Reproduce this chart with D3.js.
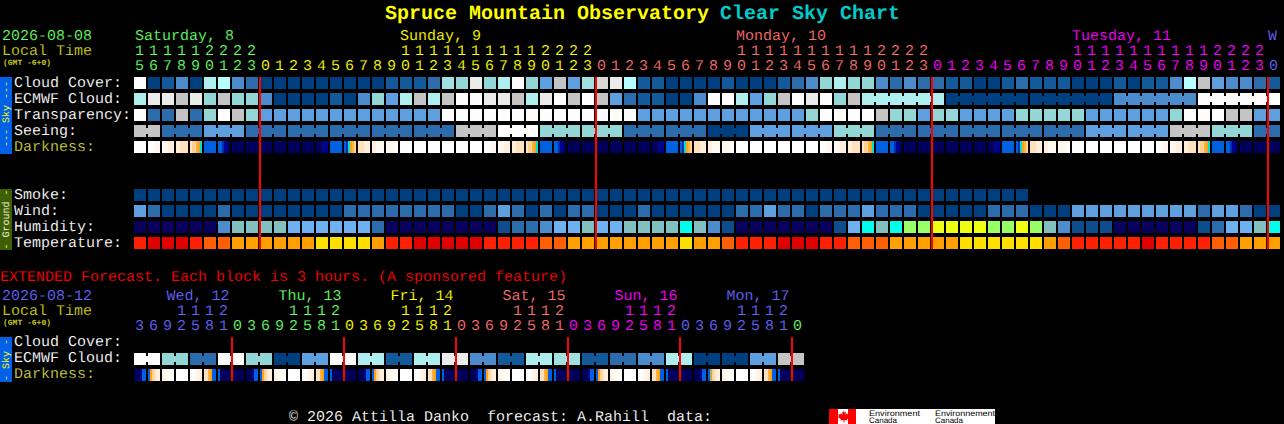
<!DOCTYPE html>
<html><head><meta charset="utf-8">
<script src="https://cdn.jsdelivr.net/npm/d3@7"></script>
<style>html,body{margin:0;padding:0;background:#000;overflow:hidden}svg{display:block}text{white-space:pre;font-family:"Liberation Mono",monospace;font-size:15px;text-rendering:geometricPrecision}.thin{stroke:#000;stroke-width:.12px}</style>
</head><body><svg id="c" width="1284" height="424"></svg>
<script>
// ---------- data ----------
const hours = [15,16,17,18,19,20,21,22,23,0,1,2,3,4,5,6,7,8,9,10,11,12,13,14,15,16,17,18,19,20,21,22,23,0,1,2,3,4,5,6,7,8,9,10,11,12,13,14,15,16,17,18,19,20,21,22,23,0,1,2,3,4,5,6,7,8,9,10,11,12,13,14,15,16,17,18,19,20,21,22,23,0];
const hourDay = [0,0,0,0,0,0,0,0,0,1,1,1,1,1,1,1,1,1,1,1,1,1,1,1,1,1,1,1,1,1,1,1,1,2,2,2,2,2,2,2,2,2,2,2,2,2,2,2,2,2,2,2,2,2,2,2,2,3,3,3,3,3,3,3,3,3,3,3,3,3,3,3,3,3,3,3,3,3,3,3,3,4];
const dayNames = ["Saturday, 8","Sunday, 9","Monday, 10","Tuesday, 11","W"];
const dayLabelCols = [0,19,43,67,81];
const dayBreaks = [9,33,57,81];
const cloudCover = [12,0,1,3,0,7,8,3,2,0,0,0,0,0,0,0,0,0,1,1,1,2,6,5,11,5,7,12,5,4,9,4,6,10,11,8,1,1,0,0,0,0,1,0,0,0,1,2,3,5,7,5,5,3,2,3,2,2,1,1,0,0,1,2,1,1,1,0,0,0,1,0,1,1,3,8,9,4,3,3,2,1];
const ecmwfCloud = [7,11,11,9,11,5,9,5,5,3,0,0,0,0,1,0,3,5,4,7,9,7,9,12,12,11,11,9,7,11,12,9,12,9,4,2,1,1,0,0,3,12,12,7,4,5,9,12,11,12,5,9,7,7,7,7,7,7,0,0,0,0,0,0,0,0,0,0,0,0,3,3,3,3,3,3,12,12,12,12,12,12];
const ecmwfSpans = [1,1,1,1,1,1,1,1,1,1,1,1,1,1,1,1,1,1,1,1,1,1,1,1,1,1,1,1,1,1,1,1,1,1,1,1,1,1,1,1,1,1,1,1,1,1,1,1,1,1,1,1,6,6,6,6,6];
const transparency = [12,2,2,9,2,5,12,9,5,4,4,4,4,4,4,4,4,4,4,4,4,4,12,12,12,12,12,12,12,12,12,12,12,12,12,12,4,4,4,4,4,4,4,4,4,4,4,4,5,12,12,12,12,9,5,5,4,5,5,4,4,4,4,5,5,5,5,5,4,4,4,4,4,4,5,12,12,12,9,9,4,4];
const seeing = [9,9,2,2,2,4,4,4,2,2,2,2,2,2,2,2,2,2,2,2,2,2,2,9,9,9,12,12,12,5,5,5,5,5,5,2,2,2,2,2,2,0,0,0,4,4,4,4,4,4,5,5,5,2,2,2,2,2,2,2,2,2,2,2,2,2,2,2,4,4,4,4,4,4,9,9,9,5,5,5,2,2];
const seeingSpans = [2,3,3,3,3,3,3,3,3,3,3,3,3,3,3,3,3,3,3,3,3,3,3,3,3,3,3,2];
const darkness = ["aaaaaa","aaabbb","bbbccc","ccdddd","deefgh","iiiiii","iijkkl","llllll","llllll","llllll","llllll","llllll","llllll","lllkkk","iiiiii","ijhgfe","dddccc","ccbbbb","bbbbaa","aaaaaa","aaaaaa","aaaaaa","aaaaaa","aaaaaa","aaaaaa","aaabbb","bbbccc","ccdddd","deefgh","iiiiii","iijkkl","llllll","llllll","llllll","llllll","llllll","llllll","lllkkk","iiiiii","ijhgfe","dddccc","ccbbbb","bbbbaa","aaaaaa","aaaaaa","aaaaaa","aaaaaa","aaaaaa","aaaaaa","aaabbb","bbbccc","ccdddd","deefgh","iiiiii","iijkkl","llllll","llllll","llllll","llllll","llllll","llllll","lllkkk","iiiiii","ijhgfe","dddccc","ccbbbb","bbbbaa","aaaaaa","aaaaaa","aaaaaa","aaaaaa","aaaaaa","aaaaaa","aaabbb","bbbccc","ccdddd","deefgh","iiiiii","iijkkl","llllll","llllll","llllll"];
const smoke = [0,0,0,0,0,0,0,0,0,0,0,0,0,0,0,0,0,0,0,0,0,0,0,0,0,0,0,0,0,0,0,0,0,0,0,0,0,0,0,0,0,0,0,0,0,0,0,0,0,0,0,0,0,0,0,0,0,0,0,0,0,0,0,0];
const wind = [4,2,0,0,0,0,2,0,0,0,0,0,0,0,0,2,2,2,2,2,2,2,2,0,0,2,4,2,0,2,0,2,2,0,0,0,2,0,0,0,0,0,0,2,2,4,2,2,0,2,2,2,4,2,2,2,0,0,0,0,0,2,2,2,0,0,0,4,4,4,4,4,4,4,4,4,2,4,4,2,0,0];
const humidity = [0,0,0,0,0,0,3,5,5,5,5,4,4,4,4,4,4,2,0,0,0,0,0,0,0,0,1,2,2,3,4,4,5,4,4,5,5,5,5,6,5,3,1,0,0,0,0,0,0,0,1,4,6,5,6,7,7,8,8,8,8,7,7,8,7,5,3,1,1,1,0,0,0,0,0,0,1,2,4,4,5,6];
const temperature = [1,0,0,0,1,2,2,3,3,3,3,3,3,4,4,4,4,3,1,1,0,0,0,0,0,1,1,1,1,2,2,3,3,3,3,3,3,3,3,4,3,3,2,1,1,1,0,0,0,1,1,2,2,2,3,3,3,3,3,4,4,4,4,4,4,3,2,1,1,1,1,1,0,1,1,1,1,2,2,3,3,3];
const extDayNames = ["Wed, 12","Thu, 13","Fri, 14","Sat, 15","Sun, 16","Mon, 17"];
const extHours = [3,6,9,12,15,18,21,0,3,6,9,12,15,18,21,0,3,6,9,12,15,18,21,0,3,6,9,12,15,18,21,0,3,6,9,12,15,18,21,0,3,6,9,12,15,18,21,0];
const extHourDay = [0,0,0,0,0,0,0,1,1,1,1,1,1,1,1,2,2,2,2,2,2,2,2,3,3,3,3,3,3,3,3,4,4,4,4,4,4,4,4,5,5,5,5,5,5,5,5,6];
const extBreaks = [7,15,23,31,39,47];
const extEcmwf = [12,12,5,5,2,2,12,12,5,5,0,0,4,4,12,12,7,7,1,1,7,7,11,11,3,3,1,1,7,7,6,6,1,1,2,2,3,3,7,7,0,0,0,0,4,4,9,9];
const extSpans = [2,2,2,2,2,2,2,2,2,2,2,2,2,2,2,2,2,2,2,2,2,2,2,2];
const extDarkness = ["lllkii","igedcc","cbbbaa","aaaaaa","aabbcc","ddfgii","illlll","llllll","lllkii","igedcc","cbbbaa","aaaaaa","aabbcc","ddfgii","illlll","llllll","lllkii","igedcc","cbbbaa","aaaaaa","aabbcc","ddfgii","illlll","llllll","lllkii","igedcc","cbbbaa","aaaaaa","aabbcc","ddfgii","illlll","llllll","lllkii","igedcc","cbbbaa","aaaaaa","aabbcc","ddfgii","illlll","llllll","lllkii","inedcc","cbbbaa","aaaaaa","aabbcc","ddfgii","illlll","llllll"];

// ---------- styles ----------
const skyColors = ["#003f7f","#135a9a","#2c6cac","#4c8ccc","#5e9fe0","#93d6d6","#a0e0e0","#aeeeee","#b8ffff","#c4c4c4","#d8d8d8","#ebebeb","#fdfdfd"];
const humidityColors = ["#08005c","#0f4c8c","#2c6cac","#4c8ccc","#6eb0f0","#82c0c0","#00ffe8","#99ff66","#eeff11"];
const temperatureColors = ["#e00000","#ff2000","#ff5f00","#ff9f00","#ffdf00"];
const darknessKeys = "abcdefghijkln".split("");
const darknessColors = ["#ffffff","#fff8f0","#ffefdc","#ffe2bd","#ffd090","#ffb040","#ffa020","#00e0d0","#0060e0","#0030b0","#000090","#00005a","#b0b060"];
const dayColors = ["#66ff66","#ffff00","#ff7070","#ff00ff","#6666ff"];
const extDayColors = ["#6666ff","#66ff66","#ffff00","#ff7070","#ff00ff","#6666ff","#66ff66"];

const svg = d3.select("#c");
const sky = d3.scaleOrdinal(d3.range(skyColors.length), skyColors);
const hum = d3.scaleOrdinal(d3.range(humidityColors.length), humidityColors);
const tmp = d3.scaleOrdinal(d3.range(temperatureColors.length), temperatureColors);
const drk = d3.scaleOrdinal(darknessKeys, darknessColors);
const X = d3.scaleBand().domain(d3.range(82)).range([134,1280]).paddingInner(2/14);
const XE = d3.scaleBand().domain(d3.range(48)).range([134,804]).paddingInner(2/14);
const skyRows = ["Cloud Cover:","ECMWF Cloud:","Transparency:","Seeing:","Darkness:"];
const groundRows = ["Smoke:","Wind:","Humidity:","Temperature:"];
const extRows = ["Cloud Cover:","ECMWF Cloud:","Darkness:"];
const Y1 = d3.scaleBand().domain(skyRows).range([77,153]).paddingInner(.25);
const Y2 = d3.scaleBand().domain(groundRows).range([189,249]).paddingInner(.25);
const Y3 = d3.scaleBand().domain(extRows).range([337,381]).paddingInner(.25);

function txt(g,x,y,s,fill){return g.append("text").attr("class","thin").attr("x",x).attr("y",y).attr("fill",fill).text(s);}

// title
const title = svg.append("g");
title.append("text").attr("x",385).attr("y",18.5).attr("fill","#ffff00").style("font-size","20px").style("font-weight","bold").text("Spruce Mountain Observatory");
title.append("text").attr("x",720).attr("y",18.5).attr("fill","#00cccc").style("font-size","20px").style("font-weight","bold").text("Clear Sky Chart");

const marks = svg.append("g").attr("shape-rendering","crispEdges");

function cells(x,y,rowName,values,color){
  marks.append("g").selectAll("rect").data(values).join("rect")
    .attr("x",(d,i)=>x(i)).attr("y",y(rowName)).attr("width",x.bandwidth()).attr("height",y.bandwidth())
    .attr("fill",d=>color(d));
}
function bridges(x,y,rowName,values,spans,color){
  let pairs=[],c=0;
  spans.forEach(s=>{for(let k=0;k<s-1;k++)pairs.push(c+k);c+=s;});
  const gap=x.step()-x.bandwidth();
  marks.append("g").selectAll("rect").data(pairs).join("rect")
    .attr("x",i=>x(i)+x.bandwidth()).attr("y",y(rowName)+y.bandwidth()/4)
    .attr("width",gap).attr("height",y.bandwidth()/2).attr("fill",i=>color(values[i]));
}
function stripes(x,y,rowName,values,color){
  const g=marks.append("g");
  values.forEach((s,i)=>{
    const sub=d3.scaleBand().domain(d3.range(s.length)).range([x(i),x(i)+x.bandwidth()]);
    g.append("g").selectAll("rect").data(s.split("")).join("rect")
      .attr("x",(d,k)=>sub(k)).attr("y",y(rowName)).attr("width",sub.bandwidth()).attr("height",y.bandwidth())
      .attr("fill",d=>color(d));
  });
}
cells(X,Y1,"Cloud Cover:",cloudCover,sky);
cells(X,Y1,"ECMWF Cloud:",ecmwfCloud,sky); bridges(X,Y1,"ECMWF Cloud:",ecmwfCloud,ecmwfSpans,sky);
cells(X,Y1,"Transparency:",transparency,sky);
cells(X,Y1,"Seeing:",seeing,sky); bridges(X,Y1,"Seeing:",seeing,seeingSpans,sky);
stripes(X,Y1,"Darkness:",darkness,drk);
cells(X,Y2,"Smoke:",smoke,sky);
cells(X,Y2,"Wind:",wind,sky);
cells(X,Y2,"Humidity:",humidity,hum);
cells(X,Y2,"Temperature:",temperature,tmp);
cells(XE,Y3,"ECMWF Cloud:",extEcmwf,sky); bridges(XE,Y3,"ECMWF Cloud:",extEcmwf,extSpans,sky);
stripes(XE,Y3,"Darkness:",extDarkness,drk);

// day break lines
marks.append("g").selectAll("rect").data(dayBreaks).join("rect")
  .attr("x",c=>X(c)-1).attr("y",77).attr("width",2).attr("height",172).attr("fill","#ff0000");
marks.append("g").selectAll("rect").data(extBreaks).join("rect")
  .attr("x",c=>XE(c)-1).attr("y",337).attr("width",2).attr("height",44).attr("fill","#ff0000");

// side bars
marks.append("rect").attr("x",0).attr("y",77).attr("width",12).attr("height",77).attr("fill","#0060e8");
marks.append("rect").attr("x",0).attr("y",189).attr("width",12).attr("height",61).attr("fill","#3f6000");
marks.append("rect").attr("x",0).attr("y",337).attr("width",12).attr("height",45).attr("fill","#0060e8");
function side(cy,s,fill){svg.append("text").attr("transform",`translate(9,${cy}) rotate(-90)`).attr("text-anchor","middle").attr("fill",fill).style("font-size","10px").text(s);}
side(114,"--- Sky ---","#ffff00");
side(219.5,"- Ground -","#f0f0e0");
side(360,"- Sky -","#ffff00");

// row labels
const labels = svg.append("g");
skyRows.forEach(r=>txt(labels,14,Y1(r)+9.5,r,r==="Darkness:"?"#c8c840":"#ffffff"));
groundRows.forEach(r=>txt(labels,14,Y2(r)+9.5,r,"#ffffff"));
extRows.forEach(r=>txt(labels,14,Y3(r)+8.5,r,r==="Darkness:"?"#c8c840":"#ffffff"));

// header, main
txt(labels,2,39.5,"2026-08-08","#66ff66");
txt(labels,2,55,"Local Time","#c8c820");
labels.append("text").attr("x",3).attr("y",65).attr("fill","#c8c820").style("font-size","8px").style("font-weight","bold").text("(GMT -6+0)");
dayNames.forEach((d,i)=>txt(labels,X(dayLabelCols[i])+(i===0?1:0),39.5,d,dayColors[i]));
const tickG = svg.append("g");
hours.forEach((h,i)=>{
  const c=dayColors[hourDay[i]];
  txt(tickG,X(i)+1,70,String(h%10),c);
  if(h>=10) txt(tickG,X(i)+1,55,String(Math.floor(h/10)),c);
});

// extended
txt(labels,0,281,"EXTENDED Forecast. Each block is 3 hours. (A sponsored feature)","#ff0000");
txt(labels,2,300,"2026-08-12","#6666ff");
txt(labels,2,315,"Local Time","#c8c820");
labels.append("text").attr("x",3).attr("y",325).attr("fill","#c8c820").style("font-size","8px").style("font-weight","bold").text("(GMT -6+0)");
extDayNames.forEach((d,i)=>txt(labels,XE(0)+32.5+i*XE.step()*8,300,d,extDayColors[i]));
extHours.forEach((h,i)=>{
  const c=extDayColors[extHourDay[i]];
  txt(tickG,XE(i)+1,330,String(h%10),c);
  if(h>=10) txt(tickG,XE(i)+1,315,String(Math.floor(h/10)),c);
});

// footer
txt(labels,289,420.5,"\u00a9 2026 Attilla Danko  forecast: A.Rahill  data:","#ffffff");
const logo = svg.append("g");
logo.append("rect").attr("x",829).attr("y",409).attr("width",166).attr("height",15).attr("fill","#ffffff").attr("shape-rendering","crispEdges");
logo.append("rect").attr("x",829).attr("y",409).attr("width",9).attr("height",15).attr("fill","#ff0000").attr("shape-rendering","crispEdges");
logo.append("rect").attr("x",848).attr("y",409).attr("width",8).attr("height",15).attr("fill","#ff0000").attr("shape-rendering","crispEdges");
logo.append("path").attr("fill","#ff0000").attr("d","M843 410l1.5 2.5 1.5-.7-.5 3 1.7-1.5.6 1.3 2-.3-.7 2 1 .6-3 2.4.4 1.2-3-.4v2.4h-1v-2.4l-3 .4.4-1.2-3-2.4 1-.6-.7-2 2 .3.6-1.3 1.7 1.5-.5-3 1.5.7z");
[[869,415.5,"Environment",51],[869,423,"Canada",28],[935,415.5,"Environnement",60],[935,423,"Canada",28]].forEach(d=>{
  logo.append("text").attr("x",d[0]).attr("y",d[1]).attr("fill","#000").attr("textLength",d[3]).attr("lengthAdjust","spacingAndGlyphs")
    .style("font-family","'Liberation Sans',sans-serif").style("font-size","8px").text(d[2]);
});
</script></body></html>
